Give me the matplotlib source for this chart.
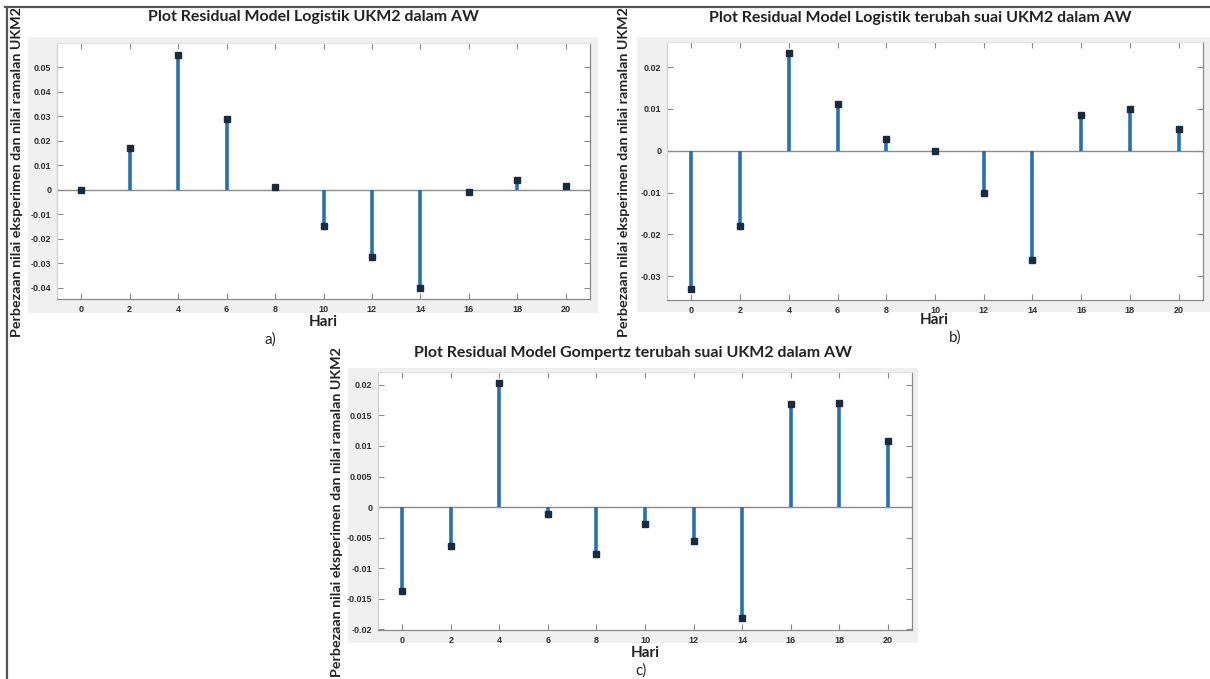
import matplotlib.pyplot as plt
from matplotlib.patches import Rectangle
from matplotlib.lines import Line2D

W, H = 1210, 679

# Residual data
hari = [0, 2, 4, 6, 8, 10, 12, 14, 16, 18, 20]
res_logistik = [0.0, 0.017, 0.0548, 0.0287, 0.0013, -0.0148, -0.0274, -0.0400, -0.0009, 0.0040, 0.0014]
res_logistik_suai = [-0.0330, -0.0180, 0.0234, 0.0111, 0.0028, 0.0, -0.0100, -0.0262, 0.0085, 0.0100, 0.0052]
res_gompertz_suai = [-0.0137, -0.0064, 0.0203, -0.0012, -0.0077, -0.0027, -0.0055, -0.0182, 0.0169, 0.0171, 0.0108]

titles = [
    "Plot Residual Model Logistik UKM2 dalam AW",
    "Plot Residual Model Logistik terubah suai UKM2 dalam AW",
    "Plot Residual Model Gompertz terubah suai UKM2 dalam AW",
]
yticks_a = [-0.04, -0.03, -0.02, -0.01, 0, 0.01, 0.02, 0.03, 0.04, 0.05]
yticks_b = [-0.03, -0.02, -0.01, 0, 0.01, 0.02]
yticks_c = [-0.02, -0.015, -0.01, -0.005, 0, 0.005, 0.01, 0.015, 0.02]
ylabel = "Perbezaan nilai eksperimen dan nilai ramalan UKM2"

STEM = "#2a6fad"
MARK = "#1c2b3c"
SPINE = "#8a8a8a"
GREY_BG = "#f0f0f0"


def fx(x):
    return x / W


def fy(y):
    return 1 - y / H


def box(x0, y0, x1, y1):
    return [fx(x0), fy(y1), fx(x1) - fx(x0), fy(y0) - fy(y1)]


def fmt(v):
    if v == 0:
        return "0"
    return ("%g" % v)


fig = plt.figure(figsize=(W / 100, H / 100), dpi=100)
fig.patch.set_facecolor("white")

# panel layout in pixels: grey band, axes box, ylim, label positions
panels = [
    dict(grey=(28, 37, 598, 313), ax=(57, 43, 590, 299), ylim=(-0.0445, 0.0598),
         yticks=yticks_a, data=res_logistik, title_xy=(313, 17), ylab_xy=(17, 172),
         hari_xy=(323, 322), tag="a)", tag_xy=(270, 340)),
    dict(grey=(637, 37, 1210, 312), ax=(667, 42, 1203, 300), ylim=(-0.0357, 0.026),
         yticks=yticks_b, data=res_logistik_suai, title_xy=(920, 18), ylab_xy=(624, 172),
         hari_xy=(934, 320), tag="b)", tag_xy=(955, 338)),
    dict(grey=(348, 368, 918, 643), ax=(378, 372, 912, 630), ylim=(-0.0201, 0.0221),
         yticks=yticks_c, data=res_gompertz_suai, title_xy=(633, 353), ylab_xy=(337, 512),
         hari_xy=(645, 653), tag="c)", tag_xy=(641, 671)),
]

for i, p in enumerate(panels):
    gx0, gy0, gx1, gy1 = p["grey"]
    fig.patches.append(Rectangle((fx(gx0), fy(gy1)), fx(gx1) - fx(gx0), fy(gy0) - fy(gy1),
                                 transform=fig.transFigure, facecolor=GREY_BG,
                                 edgecolor="none", zorder=-5))
    ax = fig.add_axes(box(*p["ax"]))
    ax.set_facecolor("white")

    ax.axhline(0, color=SPINE, linewidth=1.0, zorder=1)
    markerline, stemlines, baseline = ax.stem(hari, p["data"])
    stemlines.set_color(STEM)
    stemlines.set_linewidth(2.6)
    markerline.set_marker("s")
    markerline.set_markersize(4)
    markerline.set_color(MARK)
    baseline.set_visible(False)

    ax.set_xlim(-1, 21)
    ax.set_ylim(*p["ylim"])
    ax.set_xticks(hari)
    ax.set_yticks(p["yticks"])
    ax.set_xticklabels([str(h) for h in hari])
    ax.set_yticklabels([fmt(v) for v in p["yticks"]])
    ax.tick_params(direction="in", length=4, width=0.8, color=SPINE,
                   top=True, right=True, labelsize=6.5, labelcolor="#333333", pad=4)
    for lab in ax.get_xticklabels() + ax.get_yticklabels():
        lab.set_fontweight("bold")
        lab.set_family("Liberation Sans")
    for s in ax.spines.values():
        s.set_color(SPINE)
        s.set_linewidth(0.9)
    # top and left edges barely show in the scan
    ax.spines["top"].set_color("#e2e2e2")
    ax.spines["left"].set_color("#d0d0d0")

    fig.text(fx(p["title_xy"][0]), fy(p["title_xy"][1]), titles[i], ha="center", va="center",
             fontsize=11.5, fontweight="bold", family="Lato", color="#222222")
    fig.text(fx(p["ylab_xy"][0]), fy(p["ylab_xy"][1]), ylabel, ha="center", va="center",
             rotation=90, fontsize=10.3, fontweight="bold", family="Lato", color="#222222")
    fig.text(fx(p["hari_xy"][0]), fy(p["hari_xy"][1]), "Hari", ha="center", va="center",
             fontsize=11, fontweight="bold", family="Lato", color="#222222")
    fig.text(fx(p["tag_xy"][0]), fy(p["tag_xy"][1]), p["tag"], ha="center", va="center",
             fontsize=11, family="Lato", color="#222222")

# outer frame lines (top and left)
fig.lines.append(Line2D([fx(5), fx(1210)], [fy(7), fy(7)], transform=fig.transFigure,
                        color="#555555", linewidth=1.6))
fig.lines.append(Line2D([fx(7), fx(7)], [fy(7), fy(679)], transform=fig.transFigure,
                        color="#555555", linewidth=1.6))

fig.savefig("out.png", dpi=100)
